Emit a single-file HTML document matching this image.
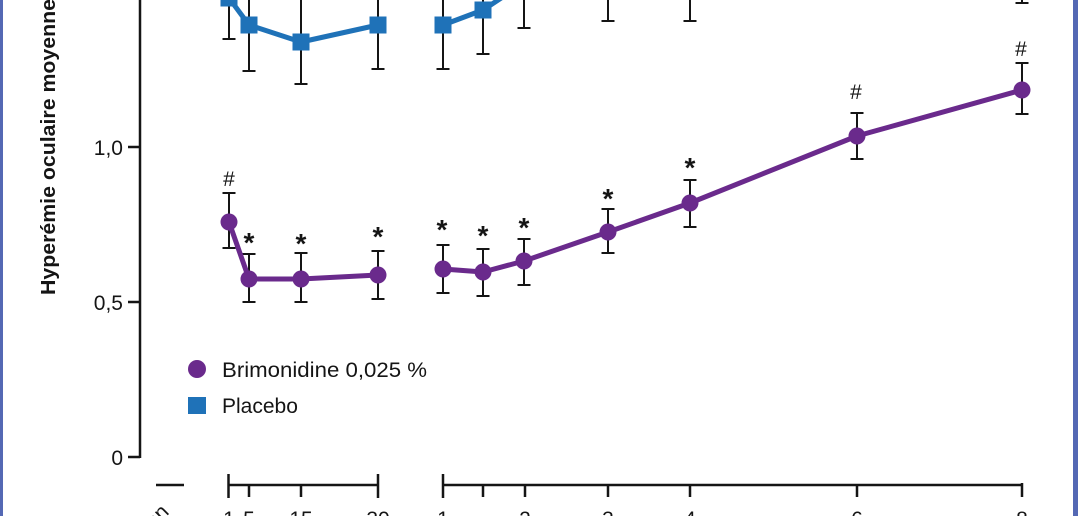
<!DOCTYPE html>
<html>
<head>
<meta charset="utf-8">
<style>
html,body{margin:0;padding:0;background:#fff;width:1078px;height:516px;overflow:hidden;}
svg{display:block;overflow:hidden;}
text{font-family:"Liberation Sans",Arial,sans-serif;fill:#151515;}
</style>
</head>
<body>
<svg width="1078" height="516" viewBox="0 0 1078 516" xmlns="http://www.w3.org/2000/svg">
<rect x="0" y="0" width="1078" height="516" fill="#ffffff"/>
<!-- frame borders -->
<rect x="0" y="0" width="3" height="516" fill="#5468b4"/>
<rect x="1073" y="0" width="5" height="516" fill="#5468b4"/>

<!-- Y axis title -->
<text x="55" y="295" transform="rotate(-90 55 295)" font-size="20" font-weight="bold" textLength="296" lengthAdjust="spacingAndGlyphs">Hyperémie oculaire moyenne</text>

<!-- Y axis -->
<g stroke="#151515" stroke-width="2.5" fill="none">
<line x1="140" y1="0" x2="140" y2="458"/>
<line x1="128" y1="147" x2="140" y2="147"/>
<line x1="128" y1="302" x2="140" y2="302"/>
<line x1="128" y1="457" x2="140" y2="457"/>
</g>
<g font-size="21" text-anchor="end">
<text x="123" y="155">1,0</text>
<text x="123" y="310">0,5</text>
<text x="123" y="465">0</text>
</g>

<!-- X axis bars -->
<g stroke="#151515" stroke-width="2.5" fill="none">
<line x1="156" y1="485" x2="184" y2="485"/>
<line x1="228.5" y1="485" x2="378" y2="485"/>
<line x1="228.5" y1="474" x2="228.5" y2="498"/>
<line x1="378" y1="474" x2="378" y2="498"/>
<line x1="249" y1="485" x2="249" y2="497"/>
<line x1="301" y1="485" x2="301" y2="497"/>
<line x1="443" y1="485" x2="1022" y2="485"/>
<line x1="443" y1="474" x2="443" y2="498"/>
<line x1="483" y1="485" x2="483" y2="497"/>
<line x1="525" y1="485" x2="525" y2="497"/>
<line x1="608" y1="485" x2="608" y2="497"/>
<line x1="690" y1="485" x2="690" y2="497"/>
<line x1="857" y1="485" x2="857" y2="497"/>
<line x1="1022" y1="483" x2="1022" y2="497"/>
</g>
<g font-size="21" text-anchor="middle">
<text x="229" y="526">1</text>
<text x="249" y="526">5</text>
<text x="301" y="526">15</text>
<text x="378" y="526">30</text>
<text x="443" y="526">1</text>
<text x="525" y="526">2</text>
<text x="608" y="526">3</text>
<text x="690" y="526">4</text>
<text x="857" y="526">6</text>
<text x="1022" y="526">8</text>
</g>
<text x="170" y="513" transform="rotate(-45 170 513)" font-size="21" text-anchor="end">Instillation</text>

<!-- Placebo error bars -->
<g stroke="#151515" stroke-width="2" fill="none">
<line x1="229" y1="-10" x2="229" y2="39"/><line x1="222.5" y1="39" x2="235.5" y2="39"/>
<line x1="249" y1="-10" x2="249" y2="71"/><line x1="242.5" y1="71" x2="255.5" y2="71"/>
<line x1="301" y1="-10" x2="301" y2="84"/><line x1="294.5" y1="84" x2="307.5" y2="84"/>
<line x1="378" y1="-10" x2="378" y2="69"/><line x1="371.5" y1="69" x2="384.5" y2="69"/>
<line x1="443" y1="-10" x2="443" y2="69"/><line x1="436.5" y1="69" x2="449.5" y2="69"/>
<line x1="483" y1="-10" x2="483" y2="54"/><line x1="476.5" y1="54" x2="489.5" y2="54"/>
<line x1="524" y1="-10" x2="524" y2="28"/><line x1="517.5" y1="28" x2="530.5" y2="28"/>
<line x1="608" y1="-10" x2="608" y2="21"/><line x1="601.5" y1="21" x2="614.5" y2="21"/>
<line x1="690" y1="-10" x2="690" y2="21"/><line x1="683.5" y1="21" x2="696.5" y2="21"/>
<line x1="1022" y1="-10" x2="1022" y2="3"/><line x1="1015.5" y1="3" x2="1028.5" y2="3"/>
</g>
<!-- Placebo lines -->
<g stroke="#1f72b8" stroke-width="5" fill="none" stroke-linejoin="round">
<polyline points="229,-2 249,25 301,42 378,25"/>
<polyline points="443,25 483,10 524,-17 608,-24 690,-24 857,-60 1022,-42"/>
</g>
<g fill="#1f72b8">
<rect x="220.5" y="-10.5" width="17" height="17"/>
<rect x="240.5" y="16.5" width="17" height="17"/>
<rect x="292.5" y="33.5" width="17" height="17"/>
<rect x="369.5" y="16.5" width="17" height="17"/>
<rect x="434.5" y="16.5" width="17" height="17"/>
<rect x="474.5" y="1.5" width="17" height="17"/>
</g>

<!-- Brimonidine error bars -->
<g stroke="#151515" stroke-width="2" fill="none">
<line x1="229" y1="193" x2="229" y2="248"/><line x1="222.5" y1="193" x2="235.5" y2="193"/><line x1="222.5" y1="248" x2="235.5" y2="248"/>
<line x1="249" y1="254" x2="249" y2="302"/><line x1="242.5" y1="254" x2="255.5" y2="254"/><line x1="242.5" y1="302" x2="255.5" y2="302"/>
<line x1="301" y1="253" x2="301" y2="302"/><line x1="294.5" y1="253" x2="307.5" y2="253"/><line x1="294.5" y1="302" x2="307.5" y2="302"/>
<line x1="378" y1="251" x2="378" y2="299"/><line x1="371.5" y1="251" x2="384.5" y2="251"/><line x1="371.5" y1="299" x2="384.5" y2="299"/>
<line x1="443" y1="245" x2="443" y2="293"/><line x1="436.5" y1="245" x2="449.5" y2="245"/><line x1="436.5" y1="293" x2="449.5" y2="293"/>
<line x1="483" y1="249" x2="483" y2="296"/><line x1="476.5" y1="249" x2="489.5" y2="249"/><line x1="476.5" y1="296" x2="489.5" y2="296"/>
<line x1="524" y1="239" x2="524" y2="285"/><line x1="517.5" y1="239" x2="530.5" y2="239"/><line x1="517.5" y1="285" x2="530.5" y2="285"/>
<line x1="608" y1="209" x2="608" y2="253"/><line x1="601.5" y1="209" x2="614.5" y2="209"/><line x1="601.5" y1="253" x2="614.5" y2="253"/>
<line x1="690" y1="180" x2="690" y2="227"/><line x1="683.5" y1="180" x2="696.5" y2="180"/><line x1="683.5" y1="227" x2="696.5" y2="227"/>
<line x1="857" y1="113" x2="857" y2="159"/><line x1="850.5" y1="113" x2="863.5" y2="113"/><line x1="850.5" y1="159" x2="863.5" y2="159"/>
<line x1="1022" y1="63" x2="1022" y2="114"/><line x1="1015.5" y1="63" x2="1028.5" y2="63"/><line x1="1015.5" y1="114" x2="1028.5" y2="114"/>
</g>
<!-- Brimonidine lines -->
<g stroke="#6a2a8c" stroke-width="5" fill="none" stroke-linejoin="round">
<polyline points="229,222 249,279 301,279 378,275"/>
<polyline points="443,269 483,272 524,261 608,232 690,203 857,136 1022,90"/>
</g>
<g fill="#6a2a8c">
<circle cx="229" cy="222" r="8.5"/>
<circle cx="249" cy="279" r="8.5"/>
<circle cx="301" cy="279" r="8.5"/>
<circle cx="378" cy="275" r="8.5"/>
<circle cx="443" cy="269" r="8.5"/>
<circle cx="483" cy="272" r="8.5"/>
<circle cx="524" cy="261" r="8.5"/>
<circle cx="608" cy="232" r="8.5"/>
<circle cx="690" cy="203" r="8.5"/>
<circle cx="857" cy="136" r="8.5"/>
<circle cx="1022" cy="90" r="8.5"/>
</g>

<!-- significance markers -->
<g font-size="28" font-weight="bold" text-anchor="middle">
<text x="249" y="252">*</text>
<text x="301" y="253">*</text>
<text x="378" y="246">*</text>
<text x="442" y="239">*</text>
<text x="483" y="245">*</text>
<text x="524" y="237">*</text>
<text x="608" y="208">*</text>
<text x="690" y="177">*</text>
</g>
<g font-size="21" text-anchor="middle">
<text x="229" y="186">#</text>
<text x="856" y="99">#</text>
<text x="1021" y="56">#</text>
</g>

<!-- legend -->
<circle cx="197" cy="369" r="9" fill="#6a2a8c"/>
<text x="222" y="377" font-size="21" textLength="205" lengthAdjust="spacingAndGlyphs">Brimonidine 0,025 %</text>
<rect x="188" y="397" width="18" height="17" fill="#1f72b8"/>
<text x="222" y="413" font-size="21">Placebo</text>
</svg>
</body>
</html>
